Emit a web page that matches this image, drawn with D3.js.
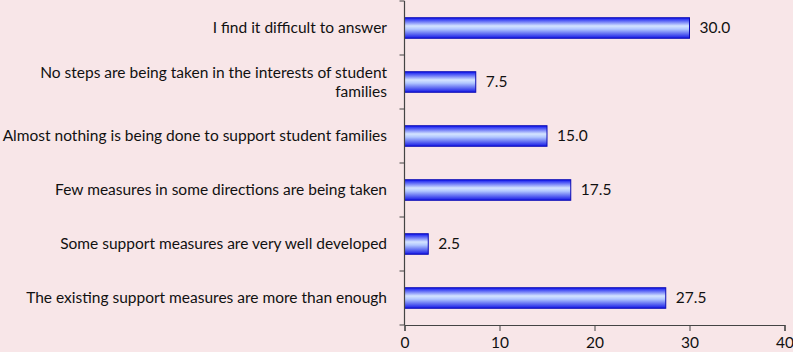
<!DOCTYPE html>
<html lang="en">
<head>
    <meta charset="UTF-8">
    <title>Support measures for student families</title>
    <script src="https://d3js.org/d3.v7.min.js"></script>
    <style>
        body { margin: 0; background: #f8e6e8; }
        svg { display: block; font-family: Lato, "Open Sans", sans-serif; }
    </style>
</head>
<body>
<script>
    var categories = [
        "I find it difficult to answer",
        "No steps are being taken in the interests of student families",
        "Almost nothing is being done to support student families",
        "Few measures in some directions are being taken",
        "Some support measures are very well developed",
        "The existing support measures are more than enough"
    ];
    var values = [30.0, 7.5, 15.0, 17.5, 2.5, 27.5];
    var xTicks = [0, 10, 20, 30, 40];

    var w = 793;
    var h = 352;
    var plotLeft = 404.5, plotRight = 784.5, plotTop = 1, plotBottom = 325;
    var fontSize = "15.5px";

    var svg = d3.select("body")
        .append("svg")
        .attr("width", w)
        .attr("height", h);

    var grad = svg.append("defs").append("linearGradient")
        .attr("id", "barGrad")
        .attr("x1", 0).attr("y1", 0).attr("x2", 0).attr("y2", 1);
    grad.append("stop").attr("offset", "0%").attr("stop-color", "#0d14f0");
    grad.append("stop").attr("offset", "40%").attr("stop-color", "#d4e4ff");
    grad.append("stop").attr("offset", "55%").attr("stop-color", "#b2c8ff");
    grad.append("stop").attr("offset", "100%").attr("stop-color", "#1418e6");

    var x = d3.scaleLinear()
        .domain([0, 40])
        .range([plotLeft, plotRight]);

    var y = d3.scaleBand()
        .domain(categories)
        .range([plotTop, plotBottom])
        .paddingInner(0.62)
        .paddingOuter(0.31);

    var band = (plotBottom - plotTop) / categories.length;

    // bars
    svg.selectAll("rect.bar")
        .data(values)
        .enter()
        .append("rect")
        .attr("class", "bar")
        .attr("x", x(0))
        .attr("y", function(d, i){ return y(categories[i]); })
        .attr("width", function(d){ return x(d) - x(0); })
        .attr("height", y.bandwidth())
        .attr("fill", "url(#barGrad)")
        .attr("stroke", "#0a0ab4")
        .attr("stroke-width", 1);

    // value labels
    svg.selectAll("text.val")
        .data(values)
        .enter()
        .append("text")
        .attr("class", "val")
        .attr("x", function(d){ return x(d) + 10; })
        .attr("y", function(d, i){ return y(categories[i]) + y.bandwidth() / 2; })
        .attr("dy", "0.35em")
        .attr("font-size", fontSize)
        .attr("fill", "#111")
        .text(function(d){ return d.toFixed(1); });

    // x axis
    var xAxis = svg.append("g")
        .attr("transform", "translate(0," + plotBottom + ")")
        .call(d3.axisBottom(x).tickValues(xTicks).tickSize(6).tickPadding(6));
    xAxis.select(".domain").attr("stroke", "#444").attr("stroke-width", 1.2);
    xAxis.selectAll(".tick line").attr("stroke", "#444");
    xAxis.selectAll(".tick text")
        .attr("font-size", fontSize)
        .attr("font-family", "Lato, sans-serif")
        .attr("fill", "#111");

    // y axis line and tick marks between categories
    svg.append("line")
        .attr("x1", plotLeft).attr("x2", plotLeft)
        .attr("y1", plotTop).attr("y2", plotBottom)
        .attr("stroke", "#444").attr("stroke-width", 1.2);

    svg.selectAll("line.ytick")
        .data(d3.range(categories.length + 1))
        .enter()
        .append("line")
        .attr("class", "ytick")
        .attr("x1", plotLeft - 5).attr("x2", plotLeft)
        .attr("y1", function(i){ return plotTop + i * band; })
        .attr("y2", function(i){ return plotTop + i * band; })
        .attr("stroke", "#444");

    // category labels, the long one wraps onto two lines
    var labels = svg.selectAll("text.cat")
        .data(categories)
        .enter()
        .append("text")
        .attr("class", "cat")
        .attr("text-anchor", "end")
        .attr("font-size", fontSize)
        .attr("fill", "#111")
        .attr("y", function(d){ return y(d) + y.bandwidth() / 2; });

    labels.each(function(d){
        var t = d3.select(this);
        var lines = d.length > 58
            ? [d.slice(0, d.lastIndexOf(" ")), d.slice(d.lastIndexOf(" ") + 1)]
            : [d];
        lines.forEach(function(line, k){
            t.append("tspan")
                .attr("x", 387)
                .attr("dy", k === 0 ? (0.35 - (lines.length - 1) * 0.6) + "em" : "1.2em")
                .text(line);
        });
    });
</script>
</body>
</html>
